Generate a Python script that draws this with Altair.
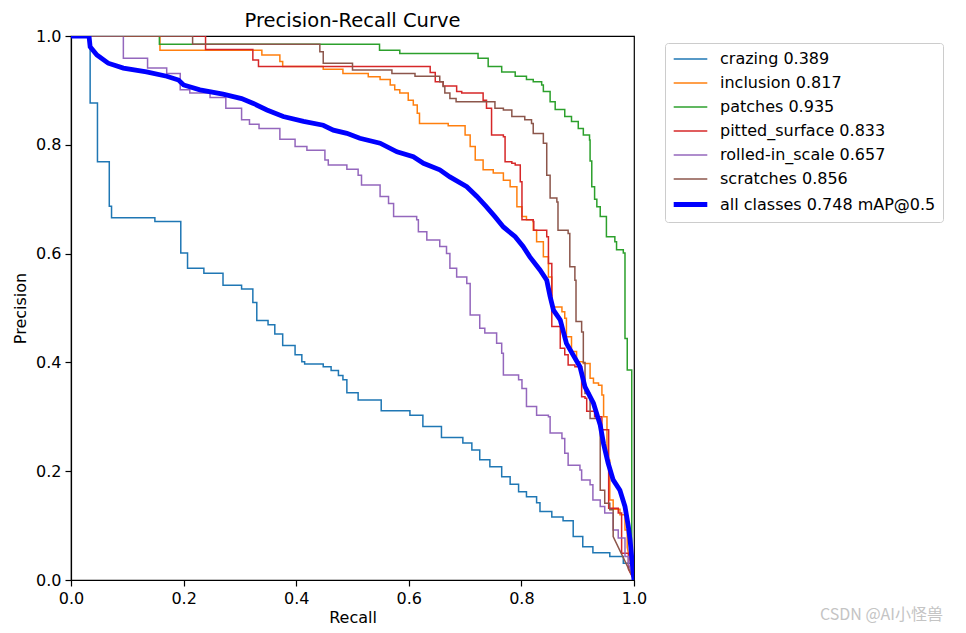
import altair as alt
import pandas as pd

# legend labels and colours, in legend order
labels = ['crazing 0.389', 'inclusion 0.817', 'patches 0.935', 'pitted_surface 0.833',
          'rolled-in_scale 0.657', 'scratches 0.856', 'all classes 0.748 mAP@0.5']
colors = ['#1f77b4', '#ff7f0e', '#2ca02c', '#d62728', '#9467bd', '#8c564b', '#0000ff']
widths = [1.5, 1.5, 1.5, 1.5, 1.5, 1.5, 4.8]

# per class: recall where the precision drops, and the precision after the drop
crazing_r = [0.034, 0.047, 0.068, 0.072, 0.149, 0.195, 0.207, 0.236, 0.27, 0.303, 0.323, 0.33,
             0.35, 0.362, 0.376, 0.398, 0.41, 0.415, 0.448, 0.462, 0.475, 0.483, 0.49, 0.51,
             0.551, 0.602, 0.625, 0.658, 0.696, 0.712, 0.726, 0.744, 0.765, 0.78, 0.795, 0.809,
             0.827, 0.833, 0.854, 0.874, 0.892, 0.909, 0.927, 0.957, 0.981, 0.996]
crazing_p = [0.877, 0.769, 0.687, 0.666, 0.659, 0.601, 0.573, 0.564, 0.542, 0.535, 0.51, 0.477,
             0.469, 0.452, 0.431, 0.414, 0.401, 0.397, 0.392, 0.385, 0.376, 0.368, 0.344, 0.331,
             0.311, 0.303, 0.282, 0.262, 0.252, 0.239, 0.221, 0.208, 0.19, 0.176, 0.162, 0.153,
             0.142, 0.126, 0.116, 0.109, 0.08, 0.061, 0.05, 0.043, 0.031, 0.03]

inclusion_r = [0.158, 0.339, 0.371, 0.376, 0.448, 0.483, 0.528, 0.549, 0.567, 0.575, 0.584,
               0.599, 0.608, 0.615, 0.619, 0.67, 0.7, 0.709, 0.718, 0.732, 0.75, 0.768, 0.78,
               0.792, 0.801, 0.809, 0.821, 0.827, 0.839, 0.848, 0.854, 0.872, 0.877, 0.88, 0.889,
               0.898, 0.91, 0.922, 0.928, 0.937, 0.943, 0.946, 0.952, 0.957, 0.963, 0.975, 0.984,
               0.988]
inclusion_p = [0.974, 0.965, 0.953, 0.944, 0.939, 0.931, 0.925, 0.92, 0.91, 0.901, 0.895,
               0.882, 0.873, 0.858, 0.839, 0.835, 0.818, 0.797, 0.772, 0.754, 0.748, 0.735, 0.723,
               0.686, 0.668, 0.662, 0.643, 0.622, 0.594, 0.557, 0.502, 0.493, 0.481, 0.447, 0.42,
               0.401, 0.398, 0.371, 0.362, 0.358, 0.34, 0.30, 0.22, 0.147, 0.13, 0.12, 0.092,
               0.06]

patches_r = [0.157, 0.548, 0.584, 0.723, 0.741, 0.765, 0.789, 0.809, 0.821, 0.836, 0.839, 0.851,
             0.86, 0.877, 0.889, 0.901, 0.91, 0.921, 0.922, 0.925, 0.93, 0.934, 0.94, 0.951,
             0.966, 0.969, 0.981, 0.984, 0.988, 0.996]
patches_p = [0.985, 0.974, 0.968, 0.959, 0.944, 0.934, 0.926, 0.92, 0.916, 0.91, 0.898, 0.879,
             0.865, 0.852, 0.843, 0.83, 0.818, 0.809, 0.77, 0.723, 0.70, 0.686, 0.668, 0.631,
             0.622, 0.607, 0.601, 0.444, 0.386, 0.02]

pitted_r = [0.239, 0.323, 0.333, 0.638, 0.647, 0.661, 0.685, 0.694, 0.732, 0.738, 0.747, 0.768,
            0.771, 0.783, 0.789, 0.798, 0.801, 0.821, 0.822, 0.845, 0.848, 0.854, 0.869, 0.877,
            0.883, 0.895, 0.907, 0.913, 0.916, 0.93, 0.943, 0.955, 0.972, 0.978, 0.99]
pitted_p = [0.975, 0.956, 0.944, 0.933, 0.916, 0.908, 0.898, 0.895, 0.882, 0.867, 0.818, 0.815,
            0.769, 0.766, 0.763, 0.732, 0.662, 0.659, 0.643, 0.631, 0.582, 0.466, 0.426, 0.414,
            0.395, 0.392, 0.337, 0.334, 0.31, 0.30, 0.276, 0.132, 0.123, 0.049, 0.02]

rolled_r = [0.093, 0.136, 0.17, 0.194, 0.211, 0.247, 0.275, 0.303, 0.317, 0.334, 0.371, 0.398,
            0.419, 0.451, 0.457, 0.49, 0.51, 0.516, 0.549, 0.564, 0.573, 0.614, 0.617, 0.632,
            0.655, 0.667, 0.673, 0.685, 0.703, 0.709, 0.726, 0.735, 0.756, 0.765, 0.768, 0.795,
            0.801, 0.809, 0.827, 0.848, 0.851, 0.872, 0.877, 0.883, 0.904, 0.907, 0.922, 0.927,
            0.94, 0.948, 0.963, 0.972, 0.984, 0.99]
rolled_p = [0.959, 0.941, 0.931, 0.901, 0.895, 0.887, 0.867, 0.846, 0.838, 0.83, 0.81, 0.797,
            0.79, 0.772, 0.763, 0.755, 0.744, 0.726, 0.705, 0.692, 0.668, 0.662, 0.64, 0.625,
            0.613, 0.6, 0.573, 0.557, 0.545, 0.487, 0.463, 0.454, 0.435, 0.417, 0.377, 0.368,
            0.352, 0.319, 0.303, 0.3, 0.27, 0.26, 0.233, 0.211, 0.202, 0.184, 0.175, 0.147,
            0.135, 0.123, 0.092, 0.077, 0.043, 0.03]

scratches_r = [0.216, 0.442, 0.448, 0.5, 0.57, 0.611, 0.655, 0.661, 0.664, 0.673, 0.684, 0.753,
               0.768, 0.783, 0.806, 0.818, 0.821, 0.839, 0.845, 0.851, 0.863, 0.865, 0.883,
               0.886, 0.895, 0.897, 0.907, 0.91, 0.913, 0.922, 0.94, 0.948, 0.957, 0.963]
scratches_p = [0.985, 0.971, 0.95, 0.9375, 0.931, 0.926, 0.916, 0.907, 0.895, 0.885, 0.879, 0.867,
               0.864, 0.852, 0.846, 0.839, 0.821, 0.803, 0.744, 0.702, 0.695, 0.643, 0.637,
               0.576, 0.551, 0.475, 0.456, 0.40, 0.343, 0.297, 0.165, 0.141, 0.129, 0.08]

# all classes mean curve, read as plain points
all_r = [0.0, 0.032, 0.034, 0.046, 0.066, 0.093, 0.134, 0.17, 0.191, 0.2, 0.229, 0.27, 0.303,
         0.324, 0.348, 0.377, 0.413, 0.448, 0.466, 0.49, 0.513, 0.549, 0.579, 0.608, 0.626,
         0.655, 0.673, 0.703, 0.721, 0.738, 0.753, 0.768, 0.789, 0.803, 0.815, 0.833, 0.845,
         0.851, 0.857, 0.869, 0.88, 0.904, 0.913, 0.928, 0.94, 0.946, 0.954, 0.963, 0.975,
         0.984, 0.99, 0.993, 0.997, 1.0]
all_p = [1.0, 1.0, 0.98, 0.965, 0.95, 0.941, 0.934, 0.926, 0.919, 0.91, 0.901, 0.893, 0.885,
         0.876, 0.864, 0.852, 0.843, 0.836, 0.827, 0.821, 0.812, 0.803, 0.787, 0.778, 0.766,
         0.754, 0.741, 0.723, 0.705, 0.686, 0.668, 0.649, 0.631, 0.613, 0.594, 0.57, 0.551,
         0.521, 0.496, 0.478, 0.435, 0.392, 0.355, 0.325, 0.285, 0.25, 0.215, 0.184, 0.165,
         0.135, 0.098, 0.074, 0.03, 0.0]

watermark = 'CSDN @AI小怪兽'

classes = [(labels[0], crazing_r, crazing_p), (labels[1], inclusion_r, inclusion_p),
           (labels[2], patches_r, patches_p), (labels[3], pitted_r, pitted_p),
           (labels[4], rolled_r, rolled_p), (labels[5], scratches_r, scratches_p)]

rows = []
for name, rr, pp in classes:
    # precision envelope: flat until each recall, then a drop; ends at (1, 0)
    pts = [(0.0, 1.0)]
    prev = 1.0
    for r, p in zip(rr, pp):
        pts.append((r, prev))
        pts.append((r, p))
        prev = p
    pts.append((1.0, 0.0))
    for i, (r, p) in enumerate(pts):
        rows.append({'series': name, 'recall': r, 'precision': p, 'idx': i})
class_df = pd.DataFrame(rows)

all_df = pd.DataFrame({'series': labels[6], 'recall': all_r, 'precision': all_p,
                       'idx': range(len(all_r))})

font = 'DejaVu Sans'
ticks = [0, 0.2, 0.4, 0.6, 0.8, 1.0]

legend = alt.Legend(orient='none', legendX=594, legendY=7, title=None,
                    symbolType='M-2.1,0H2.1', symbolSize=256, symbolOffset=8,
                    labelFont=font, labelFontSize=16, labelColor='black', labelOffset=19,
                    labelLimit=400, padding=7, rowPadding=7, strokeColor='#cccccc',
                    cornerRadius=3, fillColor='white')

enc = dict(
    x=alt.X('recall:Q', title='Recall', scale=alt.Scale(domain=[0, 1], nice=False),
            axis=alt.Axis(values=ticks, format='.1f', titlePadding=3)),
    y=alt.Y('precision:Q', title='Precision', scale=alt.Scale(domain=[0, 1], nice=False),
            axis=alt.Axis(values=ticks, format='.1f', titlePadding=7)),
    color=alt.Color('series:N', scale=alt.Scale(domain=labels, range=colors), legend=legend),
    strokeWidth=alt.StrokeWidth('series:N',
                                scale=alt.Scale(type='ordinal', domain=labels, range=widths),
                                legend=legend),
    detail='series:N',
    order='idx:Q',
)

class_lines = alt.Chart(class_df).mark_line(clip=True).encode(**enc)
all_line = alt.Chart(all_df).mark_line(clip=True).encode(**enc)

mark_text = alt.Chart(pd.DataFrame({'t': [watermark]})).mark_text(
    align='left', baseline='middle', font='Noto Sans CJK SC', fontSize=16,
    color='#c4c4c4').encode(x=alt.value(749), y=alt.value(579), text='t:N')

chart = alt.layer(class_lines, all_line, mark_text).properties(
    width=563, height=544,
    title=alt.TitleParams('Precision-Recall Curve', font=font, fontSize=19.5,
                          fontWeight='normal', anchor='middle', offset=-3, color='black'),
    autosize=alt.AutoSizeParams(type='none'),
    padding={'left': 63, 'top': 28, 'right': 320, 'bottom': 47},
).configure_view(
    stroke='black', strokeWidth=1.2
).configure_axis(
    grid=False, domainColor='black', domainWidth=1.2, tickColor='black', tickSize=6,
    tickWidth=1.2, labelFont=font, labelFontSize=16, labelColor='black', labelPadding=4,
    labelFlush=False, titleFont=font, titleFontSize=16, titleFontWeight='normal',
    titleColor='black'
)

chart.save('out.html', embed_options={'renderer': 'svg', 'actions': False})
